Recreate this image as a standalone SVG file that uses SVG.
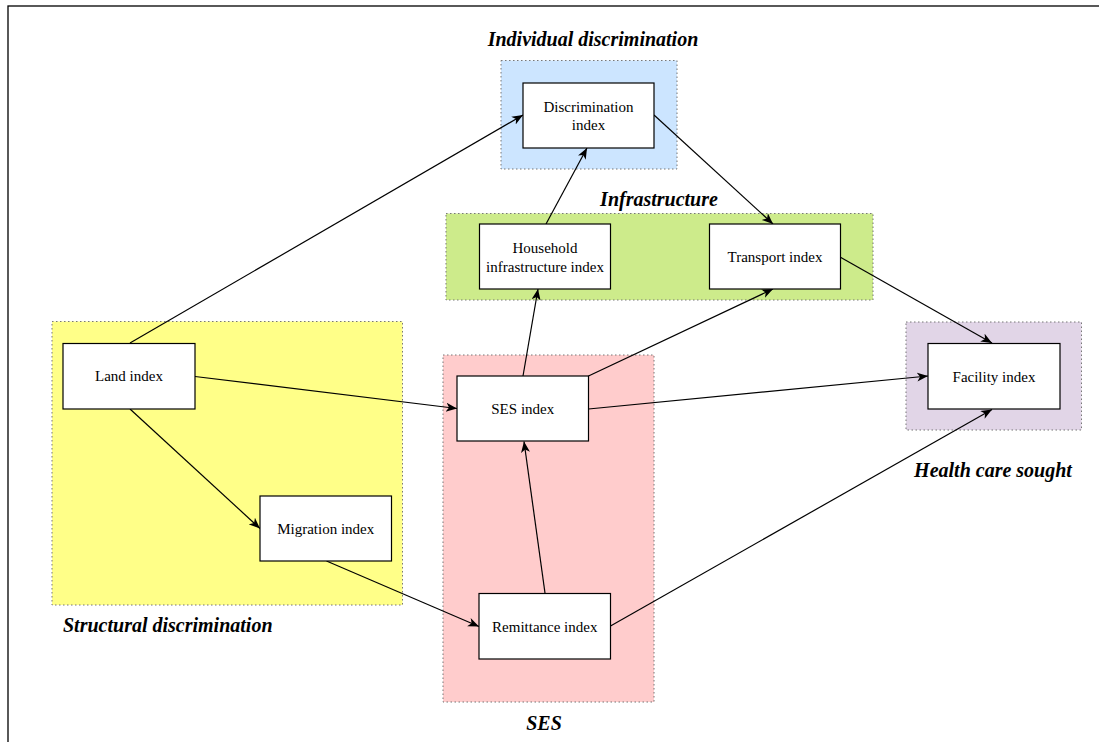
<svg xmlns="http://www.w3.org/2000/svg" width="1099" height="742" viewBox="0 0 1099 742">
<style>
.grp{stroke:#777;stroke-width:1;stroke-dasharray:1.5 2.5}
.node rect{fill:#fff;stroke:#000;stroke-width:1.2}
.node text{font-family:"Liberation Serif",serif;font-size:15px;fill:#000;text-anchor:middle}
.lbl{font-family:"Liberation Serif",serif;font-size:20px;font-weight:bold;font-style:italic;fill:#000}
#edges line{stroke:#000;stroke-width:1.2;fill:none;marker-end:url(#arr)}
</style>
<defs>
<marker id="arr" markerUnits="userSpaceOnUse" markerWidth="12" markerHeight="10" refX="11" refY="4.5" orient="auto">
<path d="M0,0 L11,4.5 L0,9 L3,4.5 z" fill="#000"/>
</marker>
</defs>
<rect x="0" y="0" width="1099" height="742" fill="#fff"/>
<rect x="8" y="6" width="1110" height="760" fill="none" stroke="#000" stroke-width="1.3"/>

<g id="groups">
<rect class="grp" x="501" y="60.5" width="176" height="108.5" fill="#cce5ff"/>
<rect class="grp" x="446" y="213.5" width="427" height="86.5" fill="#cdeb8b"/>
<rect class="grp" x="52" y="321.5" width="350.5" height="283.5" fill="#ffff88"/>
<rect class="grp" x="443" y="355" width="211" height="347" fill="#ffcccc"/>
<rect class="grp" x="906" y="322" width="175.5" height="108" fill="#e1d5e7"/>
</g>

<g id="labels">
<text class="lbl" x="593" y="45.5" text-anchor="middle">Individual discrimination</text>
<text class="lbl" x="659" y="206" text-anchor="middle">Infrastructure</text>
<text class="lbl" x="63" y="632" text-anchor="start">Structural discrimination</text>
<text class="lbl" x="544" y="730" text-anchor="middle">SES</text>
<text class="lbl" x="993" y="477" text-anchor="middle">Health care sought</text>
</g>

<g id="edges">
<line x1="130" y1="343" x2="523" y2="115"/>
<line x1="546" y1="224" x2="587" y2="148"/>
<line x1="654" y1="115" x2="773" y2="224"/>
<line x1="840" y1="257" x2="992" y2="343"/>
<line x1="523" y1="376" x2="538" y2="289"/>
<line x1="588.5" y1="376" x2="773" y2="289"/>
<line x1="195" y1="376.5" x2="457" y2="408.5"/>
<line x1="588.5" y1="409" x2="928" y2="376"/>
<line x1="130" y1="409" x2="260" y2="528.5"/>
<line x1="326.5" y1="561" x2="479" y2="626.5"/>
<line x1="545" y1="593" x2="524" y2="441.5"/>
<line x1="610.5" y1="626" x2="992" y2="409.5"/>
</g>

<g id="n-discrimination" class="node">
<rect x="523" y="83" width="131" height="65"/>
<text x="588.5" y="111.5">Discrimination</text>
<text x="588.5" y="129.5">index</text>
</g>
<g id="n-household" class="node">
<rect x="479.5" y="224" width="131" height="65"/>
<text x="545" y="252.5">Household</text>
<text x="545" y="271.5">infrastructure index</text>
</g>
<g id="n-transport" class="node">
<rect x="709.5" y="224" width="131" height="65"/>
<text x="775" y="262">Transport index</text>
</g>
<g id="n-land" class="node">
<rect x="63" y="343.5" width="132" height="65.5"/>
<text x="129" y="381">Land index</text>
</g>
<g id="n-migration" class="node">
<rect x="260" y="496" width="131.5" height="65"/>
<text x="325.75" y="533.5">Migration index</text>
</g>
<g id="n-ses" class="node">
<rect x="457" y="376" width="131.5" height="65"/>
<text x="522.75" y="414">SES index</text>
</g>
<g id="n-remittance" class="node">
<rect x="479" y="593.5" width="131.5" height="65.5"/>
<text x="544.75" y="631.5">Remittance index</text>
</g>
<g id="n-facility" class="node">
<rect x="928" y="343.5" width="132" height="65.5"/>
<text x="994" y="381.5">Facility index</text>
</g>
</svg>
